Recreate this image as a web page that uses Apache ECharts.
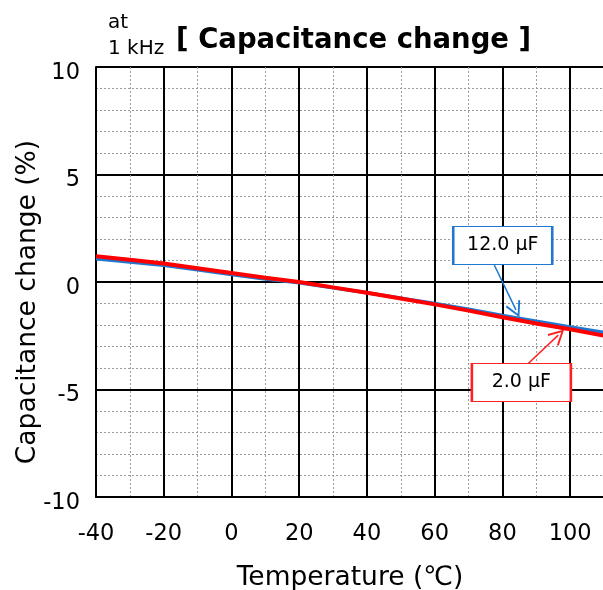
<!DOCTYPE html>
<html>
<head>
<meta charset="utf-8">
<script src="https://cdn.jsdelivr.net/npm/echarts@6/dist/echarts.min.js"></script>
<style>html,body{margin:0;padding:0;background:#fff;}#c{width:603px;height:590px;}</style>
</head>
<body>
<div id="c"></div>
<script>
// Data
const temps = [-40, -30, -20, -10, 0, 10, 20, 30, 40, 50, 60, 70, 80, 90, 100, 110];
const cap12uF = [1.08, 0.93, 0.78, 0.57, 0.35, 0.14, -0.04, -0.27, -0.50, -0.75, -1.00, -1.27, -1.56, -1.83, -2.09, -2.35];
const cap2uF = [1.20, 1.03, 0.86, 0.64, 0.42, 0.20, 0.00, -0.25, -0.50, -0.77, -1.04, -1.33, -1.64, -1.93, -2.20, -2.50];
const xTicks = [-40, -20, 0, 20, 40, 60, 80, 100];
const yTicks = [-10, -5, 0, 5, 10];
// annotation anchors (data coordinates)
const label12 = {text: '12.0 μF', box: [80.1, 1.70], from: [77.6, 0.79], to: [84.0, -1.30]};
const label2 = {text: '2.0 μF', box: [85.6, -4.67], from: [87.7, -3.78], to: [96.5, -2.47]};

const FONT = 'DejaVu Sans';
const chevron = 'path://M5,0 L10,10 L9,10.8 L5,2.6 L1,10.8 L0,10 Z';

function pairs(xs, ys) { return xs.map((x, i) => [x, ys[i]]); }

function annot(a, color) {
  return {
    markLine: {
      silent: true,
      symbol: ['none', chevron],
      symbolSize: 16,
      label: {show: false},
      lineStyle: {color: color, width: 1.5, type: 'solid'},
      emphasis: {disabled: true},
      data: [[{coord: a.from}, {coord: a.to}]]
    },
    markPoint: {
      silent: true,
      symbol: 'rect',
      symbolSize: [99, 38],
      itemStyle: {color: '#fff', borderColor: color, borderWidth: 1.6},
      label: {show: true, formatter: a.text, color: '#000', fontSize: 19, fontFamily: FONT},
      data: [{coord: a.box}]
    }
  };
}

const chart = echarts.init(document.getElementById('c'), null, {renderer: 'canvas'});
chart.setOption({
  animation: false,
  backgroundColor: '#fff',
  title: [
    {text: 'at', left: 103, top: 8, textStyle: {fontFamily: FONT, fontSize: 20, fontWeight: 'normal', color: '#000'}},
    {text: '1 kHz', left: 103, top: 34, textStyle: {fontFamily: FONT, fontSize: 20, fontWeight: 'normal', color: '#000'}},
    {text: '[ Capacitance change ]', left: 171, top: 22, textStyle: {fontFamily: FONT, fontSize: 27.5, fontWeight: 'bold', color: '#000'}}
  ],
  grid: {left: 96, top: 67, width: 508, height: 430, containLabel: false, outerBoundsMode: 'none'},
  xAxis: [
    {
      type: 'value', min: -40, max: 110, interval: 20,
      axisLine: {show: true, onZero: false, lineStyle: {color: '#000', width: 2}},
      axisTick: {show: false},
      axisLabel: {
        color: '#000', fontSize: 22.5, fontFamily: FONT, margin: 26, showMaxLabel: false,
        formatter: v => xTicks.includes(v) ? String(v) : ''
      },
      splitLine: {show: true, lineStyle: {color: '#000', width: 2}},
      name: 'Temperature (℃)', nameLocation: 'middle', nameGap: 68,
      nameTextStyle: {color: '#000', fontSize: 26.5, fontFamily: FONT},
      z: 3
    },
    {
      type: 'value', min: -40, max: 110, interval: 10, show: true,
      axisLine: {show: false}, axisTick: {show: false}, axisLabel: {show: false},
      splitLine: {show: true, lineStyle: {color: '#9a9a9a', width: 1, type: [2, 2]}},
      z: 1
    }
  ],
  yAxis: {
    type: 'value', min: -10, max: 10, interval: 5,
    axisLine: {show: true, onZero: false, lineStyle: {color: '#000', width: 2}},
    axisTick: {show: false},
    axisLabel: {
      color: '#000', fontSize: 22.5, fontFamily: FONT, margin: 16, verticalAlign: 'top', lineHeight: 12,
      formatter: v => yTicks.includes(v) ? String(v) : ''
    },
    splitLine: {show: true, lineStyle: {color: '#000', width: 2}},
    minorTick: {show: false, splitNumber: 5},
    minorSplitLine: {show: true, lineStyle: {color: '#9a9a9a', width: 1, type: [2, 2]}}
  },
  graphic: [
    {type: 'text', x: 28, y: 302, rotation: Math.PI / 2,
     style: {text: 'Capacitance change (%)', fill: '#000', font: '26.5px "DejaVu Sans"', align: 'center', verticalAlign: 'middle'}}
  ],
  series: [
    Object.assign({
      name: '12.0 μF', type: 'line', xAxisIndex: 0, data: pairs(temps, cap12uF), showSymbol: false, smooth: false,
      lineStyle: {color: '#1f77d0', width: 3.5}, itemStyle: {color: '#1f77d0'}, z: 5
    }, annot(label12, '#1f77d0')),
    Object.assign({
      name: '2.0 μF', type: 'line', xAxisIndex: 0, data: pairs(temps, cap2uF), showSymbol: false, smooth: false,
      lineStyle: {color: '#ff0000', width: 4}, itemStyle: {color: '#ff0000'}, z: 6
    }, annot(label2, '#ff2020'))
  ]
});
</script>
</body>
</html>
